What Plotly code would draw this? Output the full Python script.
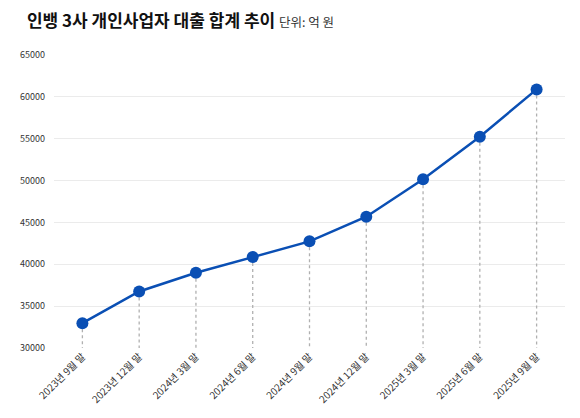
import plotly.graph_objects as go

# 기간 (분기말)
periods = [
    "2023년 9월 말", "2023년 12월 말", "2024년 3월 말", "2024년 6월 말",
    "2024년 9월 말", "2024년 12월 말", "2025년 3월 말", "2025년 6월 말",
    "2025년 9월 말",
]
# 인뱅 3사 개인사업자 대출 합계 (억 원)
loan_total = [32970, 36750, 38980, 40870, 42740, 45680, 50160, 55240, 60890]

y_ticks = [30000, 35000, 40000, 45000, 50000, 55000, 60000, 65000]
Y_BASE = 30000

# 각 점에서 x축까지 점선
drop_x, drop_y = [], []
for p, v in zip(periods, loan_total):
    drop_x += [p, p, None]
    drop_y += [v, Y_BASE, None]

fig = go.Figure()
fig.add_trace(go.Scatter(
    x=drop_x, y=drop_y, mode="lines",
    line=dict(color="#b0b0b0", width=1.3, dash="dot"),
    hoverinfo="skip", showlegend=False,
))
fig.add_trace(go.Scatter(
    x=periods, y=loan_total, mode="lines+markers",
    line=dict(color="#0a4fb4", width=2.5),
    marker=dict(color="#0a4fb4", size=12),
    showlegend=False,
))

fig.update_layout(
    width=572, height=410,
    margin=dict(l=44, r=15, t=47, b=63),
    paper_bgcolor="white", plot_bgcolor="white",
    font=dict(family="Noto Sans CJK KR, Noto Sans", color="#333"),
    title=dict(
        text="<b>인뱅 3사 개인사업자 대출 합계 추이</b> "
             "<span style='font-size:12.5px;font-weight:normal;color:#333'>단위: 억 원</span>",
        x=0.033, xanchor="left", y=0.968, yanchor="middle",
        font=dict(size=17, color="#111"),
    ),
    xaxis=dict(
        type="category", tickangle=-45, range=[-0.5, len(periods) - 0.5],
        showgrid=False, zeroline=False, showline=False, ticks="",
        tickfont=dict(size=10, color="#333"),
    ),
    yaxis=dict(
        range=[Y_BASE, 65000], tickvals=y_ticks, ticktext=[str(t) for t in y_ticks],
        showgrid=True, gridcolor="#ebebeb", zeroline=False, showline=False,
        tickfont=dict(size=9, color="#333"), ticklabelstandoff=8,
    ),
)

fig.write_html("out.html")
